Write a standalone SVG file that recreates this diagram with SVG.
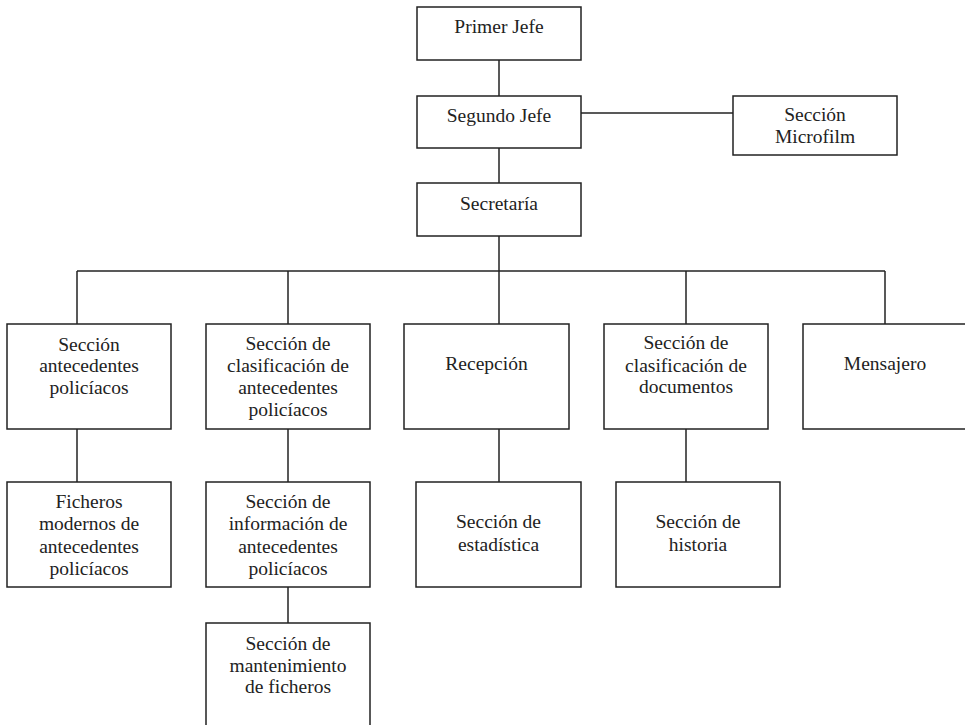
<svg xmlns="http://www.w3.org/2000/svg" width="965" height="725" viewBox="0 0 965 725">
<style>
rect{fill:#fff;stroke:#222;stroke-width:1.5}
line{stroke:#222;stroke-width:1.5;fill:none}
text{font-size:19.5px;fill:#222;text-anchor:middle}
</style>
<rect x="0" y="0" width="965" height="725" style="stroke:none"/>
<g id="connectors">
<line x1="499" y1="60" x2="499" y2="96"/>
<line x1="581" y1="113" x2="733" y2="113"/>
<line x1="499" y1="148" x2="499" y2="183"/>
<line x1="499" y1="236" x2="499" y2="271"/>
<line x1="77" y1="271" x2="885" y2="271"/>
<line x1="77" y1="271" x2="77" y2="324"/>
<line x1="288" y1="271" x2="288" y2="324"/>
<line x1="499" y1="271" x2="499" y2="324"/>
<line x1="686" y1="271" x2="686" y2="324"/>
<line x1="885" y1="271" x2="885" y2="324"/>
<line x1="77" y1="429" x2="77" y2="482"/>
<line x1="288" y1="429" x2="288" y2="482"/>
<line x1="499" y1="429" x2="499" y2="482"/>
<line x1="686" y1="429" x2="686" y2="482"/>
<line x1="288" y1="587" x2="288" y2="623"/>
</g>
<g font-family="'Liberation Serif', 'DejaVu Serif', 'Times New Roman', serif">
<g id="primer-jefe"><rect x="417" y="7" width="164" height="53"/><text x="499" y="33">Primer Jefe</text></g>
<g id="segundo-jefe"><rect x="417" y="96" width="164" height="52"/><text x="499" y="122">Segundo Jefe</text></g>
<g id="microfilm"><rect x="733" y="96" width="164" height="59"/><text x="815" y="121">Sección</text><text x="815" y="143">Microfilm</text></g>
<g id="secretaria"><rect x="417" y="183" width="164" height="53"/><text x="499" y="210">Secretaría</text></g>
<g id="antecedentes"><rect x="7" y="324" width="164" height="105"/><text x="89" y="351">Sección</text><text x="89" y="372">antecedentes</text><text x="89" y="394">policíacos</text></g>
<g id="clasificacion-antecedentes"><rect x="206" y="324" width="164" height="105"/><text x="288" y="350">Sección de</text><text x="288" y="372">clasificación de</text><text x="288" y="394">antecedentes</text><text x="288" y="416">policíacos</text></g>
<g id="recepcion"><rect x="404" y="324" width="165" height="105"/><text x="486.5" y="370">Recepción</text></g>
<g id="clasificacion-documentos"><rect x="604" y="324" width="164" height="105"/><text x="686" y="349">Sección de</text><text x="686" y="372">clasificación de</text><text x="686" y="393">documentos</text></g>
<g id="mensajero"><rect x="803" y="324" width="164" height="105"/><text x="885" y="370">Mensajero</text></g>
<g id="ficheros-modernos"><rect x="7" y="482" width="164" height="105"/><text x="89" y="508">Ficheros</text><text x="89" y="530">modernos de</text><text x="89" y="553">antecedentes</text><text x="89" y="575">policíacos</text></g>
<g id="informacion"><rect x="206" y="482" width="164" height="105"/><text x="288" y="508">Sección de</text><text x="288" y="530">información de</text><text x="288" y="553">antecedentes</text><text x="288" y="575">policíacos</text></g>
<g id="estadistica"><rect x="416" y="482" width="165" height="105"/><text x="498.5" y="528">Sección de</text><text x="498.5" y="551">estadística</text></g>
<g id="historia"><rect x="616" y="482" width="164" height="105"/><text x="698" y="528">Sección de</text><text x="698" y="551">historia</text></g>
<g id="mantenimiento"><rect x="206" y="623" width="164" height="110"/><text x="288" y="650">Sección de</text><text x="288" y="672">mantenimiento</text><text x="288" y="693">de ficheros</text></g>
</g>
</svg>
